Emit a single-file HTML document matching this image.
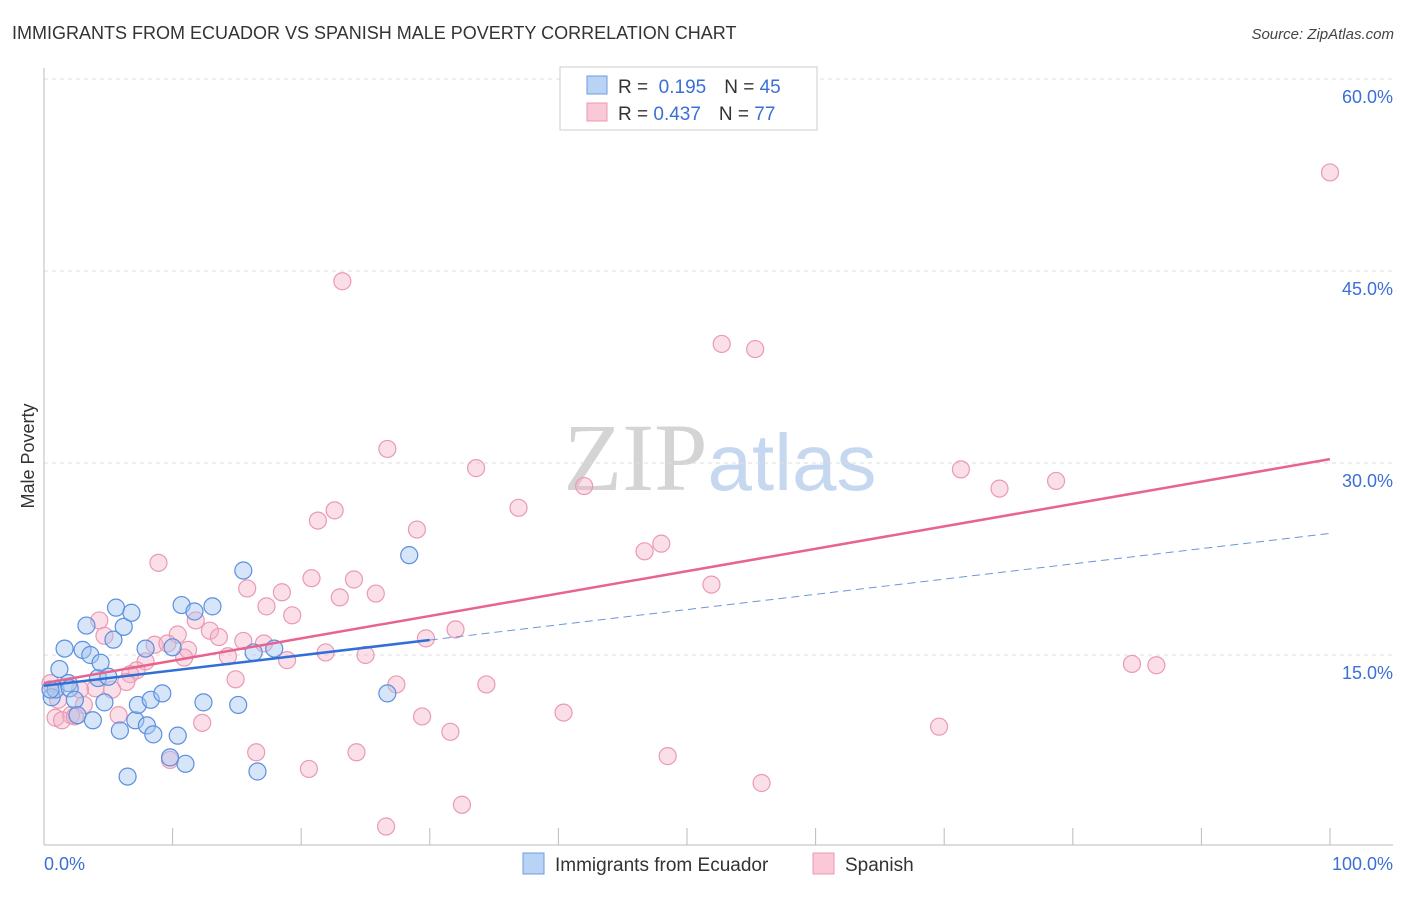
<!DOCTYPE html>
<html><head><meta charset="utf-8"><style>
body{margin:0;background:#fff;font-family:"Liberation Sans",sans-serif;}
svg text{font-family:"Liberation Sans",sans-serif;}
</style></head><body>
<svg id="chart" width="1406" height="892" xmlns="http://www.w3.org/2000/svg">
<text x="12" y="39" font-size="18" fill="#333">IMMIGRANTS FROM ECUADOR VS SPANISH MALE POVERTY CORRELATION CHART</text>
<text x="1394" y="39" font-size="15" fill="#444" text-anchor="end" font-style="italic">Source: ZipAtlas.com</text>
<text x="720" y="490" font-size="96" text-anchor="middle"><tspan font-family="Liberation Serif" fill="#d4d4d4">ZIP</tspan><tspan fill="#c5d8f0" font-size="80">atlas</tspan></text>
<g id="grid"></g>
<g id="axes"></g>
<g id="pts"></g>
<g id="trends"></g>
<text transform="translate(34,456) rotate(-90)" font-size="18" fill="#333" text-anchor="middle">Male Poverty</text>
<g>
<rect x="560" y="67" width="257" height="63" fill="#fff" stroke="#ccc"/>
<rect x="587" y="76" width="20" height="18" fill="#b9d3f5" stroke="#6d9be0"/>
<rect x="587" y="103" width="20" height="18" fill="#fac8d6" stroke="#eb9ab0"/>
<text x="618" y="93" font-size="19" fill="#333">R = <tspan fill="#3b6fd6">&#160;0.195</tspan><tspan dx="18" fill="#333">N = </tspan><tspan fill="#3b6fd6">45</tspan></text>
<text x="618" y="120" font-size="19" fill="#333">R = <tspan fill="#3b6fd6">0.437</tspan><tspan dx="18" fill="#333">N = </tspan><tspan fill="#3b6fd6">77</tspan></text>
</g>
<g>
<rect x="523" y="853" width="21" height="21" fill="#b9d3f5" stroke="#6d9be0"/>
<text x="555" y="871" font-size="19" fill="#333">Immigrants from Ecuador</text>
<rect x="813" y="853" width="21" height="21" fill="#fac8d6" stroke="#eb9ab0"/>
<text x="845" y="871" font-size="19" fill="#333">Spanish</text>
</g>
</svg>
<script>
const blueX=[0.6,0.9,1.2,1.6,1.9,2.0,2.4,2.6,3.0,3.3,3.6,3.8,4.2,4.4,4.7,5.0,5.4,5.6,5.9,6.2,6.5,6.8,7.1,7.3,7.9,8.0,8.3,8.5,9.2,9.8,10.0,10.4,10.7,11.0,11.7,12.4,13.1,15.1,15.5,16.3,16.6,17.9,26.7,28.4,0.5];
const blueY=[11.7,12.3,13.9,15.5,12.8,12.4,11.5,10.3,15.4,17.3,15.0,9.9,13.2,14.4,11.3,13.3,16.2,18.7,9.1,17.2,5.5,18.3,9.9,11.1,15.5,9.5,11.5,8.8,12.0,7.0,15.6,8.7,18.9,6.5,18.4,11.3,18.8,11.1,21.6,15.2,5.9,15.5,12.0,22.8,12.3];
const pinkX=[100,23.2,52.7,55.3,26.7,33.6,71.3,74.3,78.7,42.0,36.9,22.6,21.3,29.0,48.0,46.7,8.9,20.8,24.1,15.8,51.9,25.8,18.5,23.0,17.3,19.3,4.3,11.8,32.0,10.4,4.7,12.9,13.6,15.5,17.1,8.6,9.6,29.7,11.2,14.3,10.9,21.9,25.0,18.9,7.9,7.2,6.7,84.6,86.5,14.9,27.4,6.4,5.3,4.0,2.8,34.4,3.1,40.4,5.8,2.1,29.4,0.9,1.4,2.4,31.6,69.6,12.3,16.5,24.3,48.5,20.6,55.8,32.5,26.6,9.8,0.5,1.1];
const pinkY=[52.7,44.2,39.3,38.9,31.1,29.6,29.5,28.0,28.6,28.2,26.5,26.3,25.5,24.8,23.7,23.1,22.2,21.0,20.9,20.2,20.5,19.8,19.9,19.5,18.8,18.1,17.7,17.7,17.0,16.6,16.5,16.9,16.4,16.1,15.9,15.8,15.9,16.3,15.4,14.9,14.8,15.2,15.0,14.6,14.5,13.8,13.5,14.3,14.2,13.1,12.7,12.9,12.3,12.4,12.3,12.7,11.1,10.5,10.3,10.3,10.2,10.1,9.9,10.2,9.0,9.4,9.7,7.4,7.4,7.1,6.1,5.0,3.3,1.6,6.8,12.8,11.5];
const yTicks=[15,30,45,60];
const yTickLabels=["15.0%","30.0%","45.0%","60.0%"];
const blueTrend=[12.6,24.5];
const pinkTrend=[12.8,30.3];
const blueSolidEnd=30;

const NS="http://www.w3.org/2000/svg";
const X0=44,X1=1330,Y0=847,PY=12.8;
const sx=v=>X0+v/100*(X1-X0);
const sy=v=>Y0-v*PY;
function mk(tag,attrs,parent){const e=document.createElementNS(NS,tag);for(const k in attrs)e.setAttribute(k,attrs[k]);parent.appendChild(e);return e;}
const grid=document.getElementById('grid'),axes=document.getElementById('axes'),pts=document.getElementById('pts'),tr=document.getElementById('trends');
yTicks.forEach((t,i)=>{
  const l=mk('line',{x1:44,x2:1393,y1:sy(t),y2:sy(t),stroke:'#ddd','stroke-dasharray':'4,4'},grid);
  
  
  const tx=mk('text',{x:1393,y:sy(t)+24,'font-size':18,fill:'#3b6fd6','text-anchor':'end'},grid);
  tx.textContent=yTickLabels[i];
  
  
});
mk('line',{x1:44,x2:44,y1:68,y2:845,stroke:'#bbb'},axes);
mk('line',{x1:44,x2:1393,y1:845,y2:845,stroke:'#bbb'},axes);
for(let i=0;i<=10;i++){const t=mk('line',{x1:sx(i*10),x2:sx(i*10),y1:828,y2:845,stroke:'#bbb'},axes);
  
  }
const xl0=mk('text',{x:44,y:870,'font-size':18,fill:'#3b6fd6'},axes);xl0.textContent='0.0%';


const xl1=mk('text',{x:1393,y:870,'font-size':18,fill:'#3b6fd6','text-anchor':'end'},axes);xl1.textContent='100.0%';


pinkX.forEach((x,i)=>{const c=mk('circle',{cx:sx(x),cy:sy(pinkY[i]),r:8.5,fill:'rgba(246,176,198,0.4)',stroke:'#ea9ab2','stroke-width':1.2},pts);
  
  });
blueX.forEach((x,i)=>{const c=mk('circle',{cx:sx(x),cy:sy(blueY[i]),r:8.5,fill:'rgba(165,198,240,0.45)',stroke:'#5b8fe0','stroke-width':1.2},pts);
  
  });
const bAt=x=>blueTrend[0]+(blueTrend[1]-blueTrend[0])*x/100;
const p=mk('line',{x1:sx(0),y1:sy(pinkTrend[0]),x2:sx(100),y2:sy(pinkTrend[1]),stroke:'#e8638e','stroke-width':2.5},tr);


const b=mk('line',{x1:sx(0),y1:sy(bAt(0)),x2:sx(blueSolidEnd),y2:sy(bAt(blueSolidEnd)),stroke:'#2f6fd6','stroke-width':2.5},tr);


const bd=mk('line',{x1:sx(blueSolidEnd),y1:sy(bAt(blueSolidEnd)),x2:sx(100),y2:sy(bAt(100)),stroke:'#6d96d8','stroke-width':1,'stroke-dasharray':'8,5'},tr);


</script>
</body></html>
